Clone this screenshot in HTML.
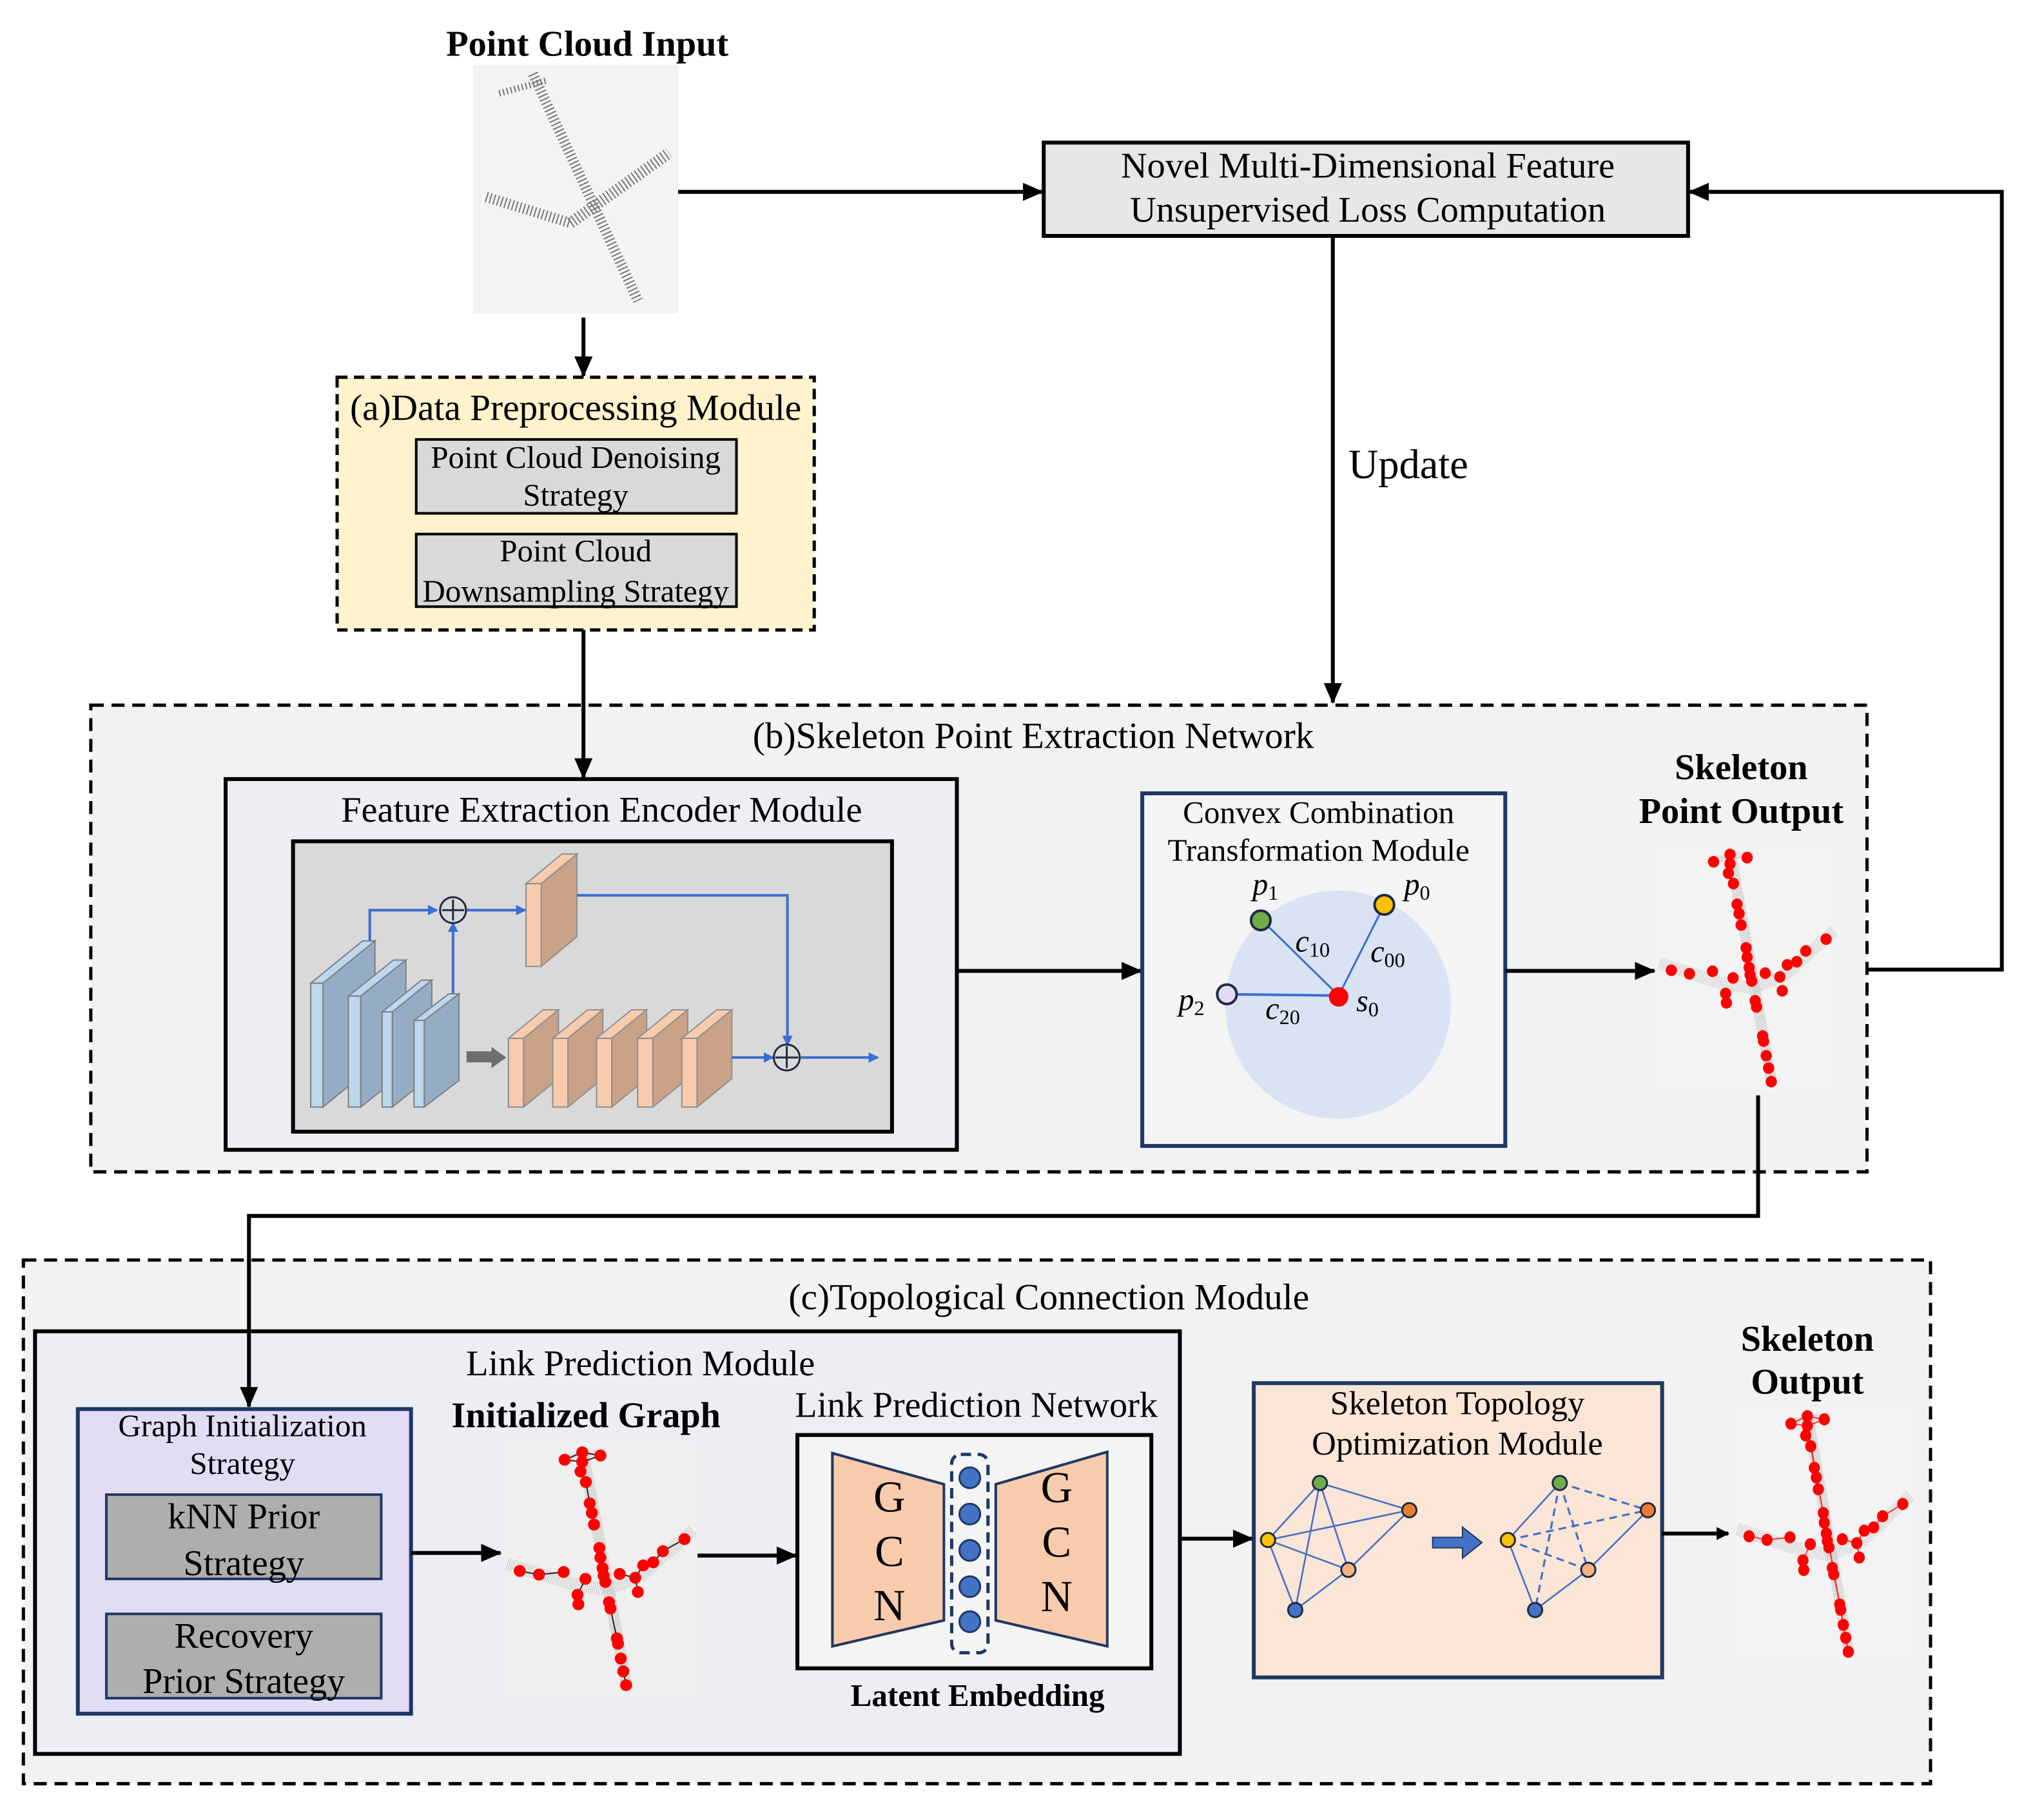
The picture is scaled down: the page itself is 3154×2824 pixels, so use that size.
<!DOCTYPE html>
<html><head><meta charset="utf-8"><style>html,body{margin:0;padding:0;background:#fff}svg{display:block}</style></head><body>
<svg width="3154" height="2824" viewBox="0 0 1568 1404" xmlns="http://www.w3.org/2000/svg" font-family="'Liberation Serif', serif">
<defs>
<marker id="ah" markerWidth="10" markerHeight="10" refX="9" refY="5" orient="auto" markerUnits="userSpaceOnUse"><path d="M0,0 L10,5 L0,10 Z" fill="#000"/></marker>
<marker id="ah2" markerWidth="16" markerHeight="14" refX="15" refY="7" orient="auto" markerUnits="userSpaceOnUse"><path d="M0,0 L16,7 L0,14 Z" fill="#000"/></marker>
<marker id="bh" markerWidth="8" markerHeight="8" refX="7" refY="4" orient="auto" markerUnits="userSpaceOnUse"><path d="M0,0 L8,4 L0,8 Z" fill="#3a6fd0"/></marker>
<g id="plane">
 <path d="M490,140 L700,1270" stroke="#aaa" stroke-width="55" stroke-dasharray="3 5" fill="none" opacity="0.8"/>
 <path d="M140,680 L430,770 L600,800 L760,740 L1010,520" stroke="#bbb" stroke-width="60" stroke-dasharray="3 6" fill="none" opacity="0.8"/>
 <path d="M380,185 L600,150" stroke="#bbb" stroke-width="30" stroke-dasharray="2 4" fill="none"/>
</g>
<g id="dots" fill="#ff0000">
 <circle cx="490" cy="155" r="28"/><circle cx="408" cy="190" r="28"/><circle cx="575" cy="170" r="28"/><circle cx="490" cy="200" r="28"/><circle cx="482" cy="245" r="28"/><circle cx="507" cy="295" r="28"/><circle cx="525" cy="395" r="28"/><circle cx="535" cy="440" r="28"/><circle cx="545" cy="495" r="28"/><circle cx="570" cy="605" r="28"/><circle cx="575" cy="650" r="28"/><circle cx="585" cy="700" r="28"/><circle cx="590" cy="735" r="28"/><circle cx="598" cy="765" r="28"/><circle cx="615" cy="860" r="28"/><circle cx="622" cy="890" r="28"/><circle cx="652" cy="1030" r="28"/><circle cx="657" cy="1055" r="28"/><circle cx="670" cy="1125" r="28"/><circle cx="682" cy="1185" r="28"/><circle cx="695" cy="1250" r="28"/><circle cx="198" cy="713" r="28"/><circle cx="288" cy="730" r="28"/><circle cx="403" cy="718" r="28"/><circle cx="505" cy="750" r="28"/><circle cx="468" cy="825" r="28"/><circle cx="472" cy="870" r="28"/><circle cx="665" cy="727" r="28"/><circle cx="738" cy="745" r="28"/><circle cx="750" cy="812" r="28"/><circle cx="775" cy="687" r="28"/><circle cx="822" cy="672" r="28"/><circle cx="867" cy="620" r="28"/><circle cx="968" cy="563" r="28"/>
</g>
<g id="links" stroke-width="6" fill="none">
 <path d="M408,190 L490,155 L575,170 L490,200 L408,190 M490,200 L482,245 M507,295 L525,395 M622,890 L652,1030 M682,1185 L695,1250 M198,713 L288,730 L403,718 M505,750 L468,825 M665,727 L738,745 L750,812 M738,745 L775,687 M822,672 L867,620 L968,563"/>
</g>
</defs>
<rect width="1568" height="1404" fill="#fff"/>

<text x="453" y="43" font-size="28" font-weight="bold" text-anchor="middle">Point Cloud Input</text>
<rect x="365" y="50" width="158" height="192" fill="#f3f3f1"/>
<g stroke="#777" fill="none" stroke-dasharray="1 2">
 <path d="M411,57 L492,232" stroke-width="8"/>
 <path d="M375,152 L440,172" stroke-width="8"/>
 <path d="M440,172 L516,118" stroke-width="9"/>
 <path d="M385,72 L422,62" stroke-width="5"/>
</g>
<line x1="523" y1="148" x2="804" y2="148" stroke="#000" stroke-width="3" marker-end="url(#ah2)"/>

<rect x="805" y="110" width="497" height="72" fill="#e7e7e7" stroke="#000" stroke-width="3"/>
<text x="1055" y="137" font-size="28" text-anchor="middle">Novel Multi-Dimensional Feature</text>
<text x="1055" y="171" font-size="28" text-anchor="middle">Unsupervised Loss Computation</text>
<polyline points="1440,748 1544,748 1544,148 1303,148" fill="none" stroke="#000" stroke-width="3" marker-end="url(#ah2)"/>
<text x="1040" y="369" font-size="32">Update</text>

<line x1="450" y1="245" x2="450" y2="290" stroke="#000" stroke-width="3" marker-end="url(#ah2)"/>

<rect x="260" y="291" width="368" height="195" fill="#fff2cc" stroke="#000" stroke-width="2.5" stroke-dasharray="8 5"/>
<text x="444" y="324" font-size="28.5" text-anchor="middle">(a)Data Preprocessing Module</text>
<rect x="321" y="339" width="247" height="57" fill="#d9d9d9" stroke="#000" stroke-width="2"/>
<text x="444" y="361" font-size="24.4" text-anchor="middle">Point Cloud Denoising</text>
<text x="444" y="390" font-size="24.4" text-anchor="middle">Strategy</text>
<rect x="321" y="412" width="247" height="56" fill="#d9d9d9" stroke="#000" stroke-width="2"/>
<text x="444" y="433" font-size="24.4" text-anchor="middle">Point Cloud</text>
<text x="444" y="464" font-size="24.4" text-anchor="middle">Downsampling Strategy</text>

<rect x="70" y="544" width="1370" height="360" fill="#f2f2f2" stroke="#000" stroke-width="2.5" stroke-dasharray="10 6"/>
<line x1="450" y1="486" x2="450" y2="600" stroke="#000" stroke-width="3" marker-end="url(#ah2)"/>
<line x1="1028" y1="182" x2="1028" y2="542" stroke="#000" stroke-width="3" marker-end="url(#ah2)"/>
<text x="797" y="577" font-size="28.5" text-anchor="middle">(b)Skeleton Point Extraction Network</text>
<rect x="174" y="601" width="564" height="286" fill="#eeedf3" stroke="#000" stroke-width="3"/>
<text x="464" y="634" font-size="28" text-anchor="middle">Feature Extraction Encoder Module</text>
<rect x="226" y="649" width="462" height="224" fill="#d9d9d9" stroke="#000" stroke-width="3"/>
<g stroke="#7f7f7f" stroke-width="1">
 <polygon points="239.6,758.5 279.7,725.8 289.2,725.8 249.1,758.5" fill="#bdd7ee"/>
 <polygon points="249.1,758.5 289.2,725.8 289.2,821.3 249.1,854" fill="#95adc4"/>
 <rect x="239.6" y="758.5" width="9.5" height="95.5" fill="#bdd7ee"/>
 <polygon points="268.7,768.4 303.5,740.6 313,740.6 278.2,768.4" fill="#bdd7ee"/>
 <polygon points="278.2,768.4 313,740.6 313,826.2 278.2,854" fill="#95adc4"/>
 <rect x="268.7" y="768.4" width="9.5" height="85.6" fill="#bdd7ee"/>
 <polygon points="294.7,780.6 325.1,756.1 333,756.1 302.6,780.6" fill="#bdd7ee"/>
 <polygon points="302.6,780.6 333,756.1 333,829.5 302.6,854" fill="#95adc4"/>
 <rect x="294.7" y="780.6" width="7.9" height="73.4" fill="#bdd7ee"/>
 <polygon points="319.3,787.2 346.1,766.7 354,766.7 327.2,787.2" fill="#bdd7ee"/>
 <polygon points="327.2,787.2 354,766.7 354,833.5 327.2,854" fill="#95adc4"/>
 <rect x="319.3" y="787.2" width="7.9" height="66.8" fill="#bdd7ee"/>
</g>
<polygon points="359.8,811 379,811 379,807.6 390.5,815.8 379,824 379,819.5 359.8,819.5" fill="#6e6e6e"/>
<g stroke="#8f8f8f" stroke-width="1">
 <polygon points="405.7,681.7 433.3,658.8 445,658.8 417.4,681.7" fill="#f8cbad"/>
 <polygon points="417.4,681.7 445,658.8 445,722.6 417.4,745.5" fill="#c9a288"/>
 <rect x="405.7" y="681.7" width="11.7" height="63.8" fill="#f8cbad"/>
</g>
<g stroke="#8f8f8f" stroke-width="1">
 <polygon points="392.1,801 419,779 430.7,779 403.8,801" fill="#f8cbad"/><polygon points="403.8,801 430.7,779 430.7,832 403.8,854" fill="#c9a288"/><rect x="392.1" y="801" width="11.7" height="53" fill="#f8cbad"/>
 <polygon points="426.3,801 453.2,779 464.9,779 438,801" fill="#f8cbad"/><polygon points="438,801 464.9,779 464.9,832 438,854" fill="#c9a288"/><rect x="426.3" y="801" width="11.7" height="53" fill="#f8cbad"/>
 <polygon points="460.1,801 487,779 498.7,779 471.8,801" fill="#f8cbad"/><polygon points="471.8,801 498.7,779 498.7,832 471.8,854" fill="#c9a288"/><rect x="460.1" y="801" width="11.7" height="53" fill="#f8cbad"/>
 <polygon points="491.8,801 518.7,779 530.4,779 503.5,801" fill="#f8cbad"/><polygon points="503.5,801 530.4,779 530.4,832 503.5,854" fill="#c9a288"/><rect x="491.8" y="801" width="11.7" height="53" fill="#f8cbad"/>
 <polygon points="525.9,801 552.8,779 564.5,779 537.7,801" fill="#f8cbad"/><polygon points="537.7,801 564.5,779 564.5,832 537.7,854" fill="#c9a288"/><rect x="525.9" y="801" width="11.7" height="53" fill="#f8cbad"/>
</g>
<g stroke="#3a6fd0" stroke-width="2" fill="none">
 <polyline points="285.2,725.8 285.2,702.1 337,702.1" marker-end="url(#bh)"/>
 <line x1="349.4" y1="766.7" x2="349.4" y2="712" marker-end="url(#bh)"/>
 <line x1="360" y1="702.1" x2="405" y2="702.1" marker-end="url(#bh)"/>
 <polyline points="445,690.7 607.3,690.7 607.3,806" marker-end="url(#bh)"/>
 <line x1="564.5" y1="815.8" x2="596" y2="815.8" marker-end="url(#bh)"/>
 <line x1="617.7" y1="815.8" x2="677" y2="815.8" marker-end="url(#bh)"/>
</g>
<g stroke="#1f2a44" stroke-width="1.5" fill="none">
 <circle cx="349.4" cy="702.1" r="10"/><path d="M341,702.1 H358 M349.4,694 V710"/>
 <circle cx="606.8" cy="815.8" r="10"/><path d="M598,815.8 H615.6 M606.8,807 V824"/>
</g>
<line x1="738" y1="749" x2="880" y2="749" stroke="#000" stroke-width="3" marker-end="url(#ah2)"/>

<rect x="881" y="612" width="280" height="272" fill="#f4f4f4" stroke="#1f3864" stroke-width="3"/>
<text x="1017" y="635" font-size="24.4" text-anchor="middle">Convex Combination</text>
<text x="1017" y="664" font-size="24.4" text-anchor="middle">Transformation Module</text>
<ellipse cx="1032" cy="775" rx="87" ry="88" fill="#dae3f3"/>
<g stroke="#3a6fd0" stroke-width="1.5">
 <line x1="972.4" y1="709" x2="1032.5" y2="768"/><line x1="1067.7" y1="698" x2="1032.5" y2="768"/><line x1="946.3" y1="767" x2="1032.5" y2="768" stroke-width="2"/>
</g>
<circle cx="972.4" cy="710" r="7.5" fill="#70ad47" stroke="#1f2a44" stroke-width="2"/>
<circle cx="1067.7" cy="698" r="7.5" fill="#ffc000" stroke="#1f2a44" stroke-width="2"/>
<circle cx="946.3" cy="767" r="7.5" fill="#e2d9f3" stroke="#1f2a44" stroke-width="2"/>
<circle cx="1032.5" cy="769" r="7.5" fill="#ff0000"/>
<g font-size="24" font-style="italic">
 <text x="966" y="690">p<tspan font-size="16" font-style="normal" dy="4">1</tspan></text>
 <text x="1083" y="690">p<tspan font-size="16" font-style="normal" dy="4">0</tspan></text>
 <text x="909" y="779">p<tspan font-size="16" font-style="normal" dy="4">2</tspan></text>
 <text x="1046" y="780">s<tspan font-size="16" font-style="normal" dy="4">0</tspan></text>
 <text x="999" y="734">c<tspan font-size="16" font-style="normal" dy="4">10</tspan></text>
 <text x="1057" y="742">c<tspan font-size="16" font-style="normal" dy="4">00</tspan></text>
 <text x="976" y="786">c<tspan font-size="16" font-style="normal" dy="4">20</tspan></text>
</g>
<line x1="1161" y1="749" x2="1276" y2="749" stroke="#000" stroke-width="3" marker-end="url(#ah2)"/>

<text x="1343" y="601" font-size="28" font-weight="bold" text-anchor="middle">Skeleton</text>
<text x="1343" y="635" font-size="28" font-weight="bold" text-anchor="middle">Point Output</text>
<rect x="1277" y="652" width="141" height="191" fill="#f3f3f3"/>
<g transform="translate(1277,652) scale(0.155,0.16) translate(-120,-110)"><use href="#plane"/><use href="#dots"/></g>

<rect x="18" y="972" width="1471" height="404" fill="#f2f2f2" stroke="#000" stroke-width="2.5" stroke-dasharray="10 6"/>
<text x="809" y="1010" font-size="28.5" text-anchor="middle">(c)Topological Connection Module</text>
<rect x="27" y="1027" width="883" height="326" fill="#eeedf4" stroke="#000" stroke-width="3"/>
<text x="494" y="1061" font-size="28" text-anchor="middle">Link Prediction Module</text>

<rect x="60" y="1087" width="257" height="235" fill="#e2dcf5" stroke="#1f3864" stroke-width="3"/>
<text x="187" y="1108" font-size="24.4" text-anchor="middle">Graph Initialization</text>
<text x="187" y="1137" font-size="24.4" text-anchor="middle">Strategy</text>
<rect x="82" y="1153" width="212" height="65" fill="#b0adad" stroke="#1f3864" stroke-width="2"/>
<text x="188" y="1179" font-size="28" text-anchor="middle">kNN Prior</text>
<text x="188" y="1215" font-size="28" text-anchor="middle">Strategy</text>
<rect x="82" y="1245" width="212" height="65" fill="#b0adad" stroke="#1f3864" stroke-width="2"/>
<text x="188" y="1271" font-size="28" text-anchor="middle">Recovery</text>
<text x="188" y="1306" font-size="28" text-anchor="middle">Prior Strategy</text>
<polyline points="1356,845 1356,938 192,938 192,1085" fill="none" stroke="#000" stroke-width="3" marker-end="url(#ah2)"/>
<line x1="317" y1="1198" x2="386" y2="1198" stroke="#000" stroke-width="3" marker-end="url(#ah2)"/>

<text x="452" y="1101" font-size="28" font-weight="bold" text-anchor="middle">Initialized Graph</text>
<rect x="388" y="1113" width="150" height="195" fill="#efefef"/>
<g transform="translate(388,1113) scale(0.165,0.164) translate(-120,-110)"><use href="#plane"/><use href="#links" stroke="#222"/><use href="#dots"/></g>
<line x1="538" y1="1200" x2="614" y2="1200" stroke="#000" stroke-width="3" marker-end="url(#ah2)"/>

<text x="753" y="1093" font-size="28" text-anchor="middle">Link Prediction Network</text>
<rect x="615" y="1107" width="273" height="180" fill="#f4f4f4" stroke="#000" stroke-width="3"/>
<polygon points="642,1121 728,1145 728,1250 642,1270" fill="#f8cbad" stroke="#1f3864" stroke-width="2"/>
<polygon points="854,1120 768,1145 768,1250 854,1270" fill="#f8cbad" stroke="#1f3864" stroke-width="2"/>
<rect x="734" y="1122" width="28" height="153" rx="7" fill="none" stroke="#1f3864" stroke-width="2.5" stroke-dasharray="8 5"/>
<g fill="#4472c4" stroke="#1f3864" stroke-width="1.5">
 <circle cx="748" cy="1140" r="8"/><circle cx="748" cy="1168" r="8"/><circle cx="748" cy="1196" r="8"/><circle cx="748" cy="1224" r="8"/><circle cx="748" cy="1251" r="8"/>
</g>
<g font-size="34" text-anchor="middle">
 <text x="686" y="1166">G</text><text x="686" y="1208">C</text><text x="686" y="1250">N</text>
 <text x="815" y="1159">G</text><text x="815" y="1201">C</text><text x="815" y="1243">N</text>
</g>
<text x="754" y="1316" font-size="24.4" font-weight="bold" text-anchor="middle">Latent Embedding</text>
<line x1="910" y1="1187" x2="966" y2="1187" stroke="#000" stroke-width="3" marker-end="url(#ah2)"/>

<rect x="967" y="1067" width="315" height="227" fill="#fbe5d6" stroke="#1f3864" stroke-width="3"/>
<text x="1124" y="1091" font-size="26" text-anchor="middle">Skeleton Topology</text>
<text x="1124" y="1122" font-size="26" text-anchor="middle">Optimization Module</text>
<g stroke="#4472c4" stroke-width="1.3">
 <path d="M978,1188 L1018,1144 M978,1188 L999,1242 M978,1188 L1087,1165 M978,1188 L1040,1211 M1018,1144 L1087,1165 M1018,1144 L1040,1211 M1018,1144 L999,1242 M1087,1165 L1040,1211 M1040,1211 L999,1242"/>
 <path d="M1163,1188 L1203,1144 M1163,1188 L1184,1242 M1225,1211 L1184,1242 M1271,1165 L1225,1211"/>
 <path d="M1203,1144 L1271,1165 M1163,1188 L1271,1165 M1163,1188 L1225,1211 M1203,1144 L1184,1242 M1203,1144 L1225,1211" stroke-dasharray="6 4" stroke-width="1.6"/>
</g>
<g stroke="#1f2a44" stroke-width="1.5">
 <circle cx="978" cy="1188" r="5.5" fill="#ffc000"/><circle cx="1018" cy="1144" r="5.5" fill="#70ad47"/><circle cx="1087" cy="1165" r="5.5" fill="#ed7d31"/><circle cx="1040" cy="1211" r="5.5" fill="#f4b183"/><circle cx="999" cy="1242" r="5.5" fill="#4472c4"/>
 <circle cx="1163" cy="1188" r="5.5" fill="#ffc000"/><circle cx="1203" cy="1144" r="5.5" fill="#70ad47"/><circle cx="1271" cy="1165" r="5.5" fill="#ed7d31"/><circle cx="1225" cy="1211" r="5.5" fill="#f4b183"/><circle cx="1184" cy="1242" r="5.5" fill="#4472c4"/>
</g>
<polygon points="1105,1186 1128,1186 1128,1178 1143,1190 1128,1202 1128,1194 1105,1194" fill="#4472c4" stroke="#1f3864" stroke-width="1"/>
<line x1="1282" y1="1183" x2="1333" y2="1183" stroke="#000" stroke-width="3" marker-end="url(#ah)"/>

<text x="1394" y="1042" font-size="28" font-weight="bold" text-anchor="middle">Skeleton</text>
<text x="1394" y="1075" font-size="28" font-weight="bold" text-anchor="middle">Output</text>
<rect x="1337" y="1085" width="140" height="198" fill="#f3f3f3"/>
<g transform="translate(1337,1085) scale(0.154,0.166) translate(-120,-110)"><use href="#plane"/><use href="#links" stroke="#ff3030"/><path d="M490,200 L695,1250" stroke="#ff3030" stroke-width="7" fill="none"/><use href="#dots"/></g>
</svg>
</body></html>
